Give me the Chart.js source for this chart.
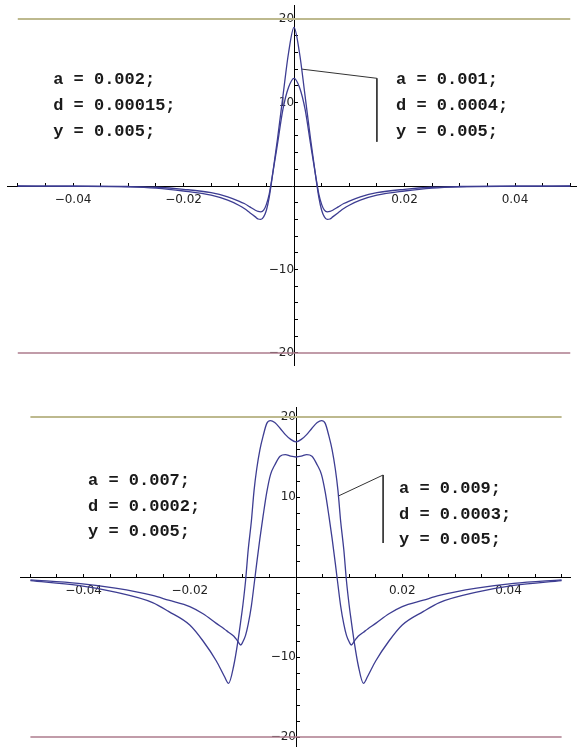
<!DOCTYPE html>
<html>
<head>
<meta charset="utf-8">
<script src="https://cdn.jsdelivr.net/npm/chart.js@4/dist/chart.umd.min.js"></script>
<style>
  html, body { margin: 0; padding: 0; background: #fff; }
  #wrap { position: relative; width: 577px; height: 747px; }
  #wrap canvas { position: absolute; left: 0; top: 0; }
</style>
</head>
<body>
<div id="wrap">
  <canvas id="topChart" width="577" height="747"></canvas>
  <canvas id="bottomChart" width="577" height="747"></canvas>
</div>
<script>
// ---- data ----
const xTicks = [-0.05, -0.045, -0.04, -0.035, -0.03, -0.025, -0.02, -0.015, -0.01, -0.005,
                0.005, 0.01, 0.015, 0.02, 0.025, 0.03, 0.035, 0.04, 0.045, 0.05];
const xLabelled = [-0.04, -0.02, 0.02, 0.04];
const yTicks = [-20, -18, -16, -14, -12, -10, -8, -6, -4, -2, 2, 4, 6, 8, 10, 12, 14, 16, 18, 20];
const yLabelled = [-20, -10, 10, 20];

const limitX = [-0.05, 0.05];
const upperLimit = [20, 20];
const lowerLimit = [-20, -20];

// top plot
const topX = [-0.05, -0.04, -0.03, -0.025, -0.02, -0.015, -0.012, -0.01, -0.009, -0.008, -0.007,
              -0.0065, -0.006, -0.0055, -0.005, -0.0045, -0.004, -0.003, -0.002, -0.001, 0,
              0.001, 0.002, 0.003, 0.004, 0.0045, 0.005, 0.0055, 0.006, 0.0065, 0.007,
              0.008, 0.009, 0.01, 0.012, 0.015, 0.02, 0.025, 0.03, 0.04, 0.05];
const topOuter = [-0.01, -0.03, -0.1, -0.25, -0.6, -1.1, -1.7, -2.3, -2.7, -3.2, -3.7,
                  -3.95, -4.0, -3.7, -2.9, -1.4, 0.8, 5.6, 10.8, 15.9, 19.0,
                  15.9, 10.8, 5.6, 0.8, -1.4, -2.9, -3.7, -4.0, -3.95, -3.7,
                  -3.2, -2.7, -2.3, -1.7, -1.1, -0.6, -0.25, -0.1, -0.03, -0.01];
const topInner = [0, -0.02, -0.06, -0.15, -0.4, -0.8, -1.3, -1.8, -2.1, -2.5, -2.9,
                  -3.05, -3.1, -2.9, -2.2, -1.0, 0.9, 5.0, 9.2, 11.8, 12.9,
                  11.8, 9.2, 5.0, 0.9, -1.0, -2.2, -2.9, -3.1, -3.05, -2.9,
                  -2.5, -2.1, -1.8, -1.3, -0.8, -0.4, -0.15, -0.06, -0.02, 0];
const topPointerX = [0.0014, 0.015, 0.015];
const topPointerY = [14.0, 12.9, 5.3];
const topLeftNote = ['a = 0.002;', 'd = 0.00015;', 'y = 0.005;'];
const topRightNote = ['a = 0.001;', 'd = 0.0004;', 'y = 0.005;'];

// bottom plot
const bottomX = [-0.05, -0.041, -0.034, -0.027, -0.024, -0.02, -0.0175, -0.015, -0.0135, -0.0127,
                 -0.0117, -0.011, -0.0104, -0.01, -0.0095, -0.009, -0.0084, -0.0079, -0.0074,
                 -0.0068, -0.0062, -0.0055, -0.0048, -0.004, -0.003, -0.002, -0.001, 0,
                 0.001, 0.002, 0.003, 0.004, 0.0048, 0.0055, 0.0062, 0.0068, 0.0074, 0.0079,
                 0.0084, 0.009, 0.0095, 0.01, 0.0104, 0.011, 0.0117, 0.0127, 0.0135, 0.015,
                 0.0175, 0.02, 0.024, 0.027, 0.034, 0.041, 0.05];
const bottomOuter = [-0.45, -1.05, -1.9, -3.2, -4.3, -6.0, -8.0, -10.5, -12.4, -13.3,
                     -11.0, -8.3, -5.5, -3.5, -0.5, 3.4, 7.0, 10.8, 13.5,
                     15.9, 17.6, 19.2, 19.55, 19.3, 18.6, 17.8, 17.2, 16.9,
                     17.2, 17.8, 18.6, 19.3, 19.55, 19.2, 17.6, 15.9, 13.5, 10.8,
                     7.0, 3.4, -0.5, -3.5, -5.5, -8.3, -11.0, -13.3, -12.4, -10.5,
                     -8.0, -6.0, -4.3, -3.2, -1.9, -1.05, -0.45];
const bottomInner = [-0.35, -0.8, -1.4, -2.3, -2.9, -3.7, -4.6, -5.8, -6.5, -6.9,
                     -7.4, -8.0, -8.5, -8.1, -7.3, -5.9, -3.6, -1.0, 1.7,
                     4.8, 7.6, 10.6, 12.8, 14.0, 15.1, 15.3, 15.1, 15.0,
                     15.1, 15.3, 15.1, 14.0, 12.8, 10.6, 7.6, 4.8, 1.7, -1.0,
                     -3.6, -5.9, -7.3, -8.1, -8.5, -8.0, -7.4, -6.9, -6.5, -5.8,
                     -4.6, -3.7, -2.9, -2.3, -1.4, -0.8, -0.35];
const bottomPointerX = [0.0079, 0.0164, 0.0164];
const bottomPointerY = [10.1, 12.75, 4.25];
const bottomLeftNote = ['a = 0.007;', 'd = 0.0002;', 'y = 0.005;'];
const bottomRightNote = ['a = 0.009;', 'd = 0.0003;', 'y = 0.005;'];

// ---- helpers ----
const pts = (xs, ys) => xs.map((x, i) => ({ x: x, y: ys[i] }));
const minus = v => (v < 0 ? '\u2212' : '') + Math.abs(v);
const noPad = s => { s.paddingTop = 0; s.paddingBottom = 0; s.paddingLeft = 0; s.paddingRight = 0; };
const tickFont = { family: '"DejaVu Sans", sans-serif', size: 12 };

const curveStyle = { borderColor: '#3d3d92', borderWidth: 1.3, pointRadius: 0, fill: false,
                     cubicInterpolationMode: 'monotone' };

// text blocks placed in data coordinates
function notesPlugin(blocks) {
  return {
    id: 'notes',
    afterDraw(chart) {
      const { ctx, scales } = chart;
      ctx.save();
      ctx.font = 'bold 17px "Liberation Mono", "Courier New", monospace';
      ctx.fillStyle = '#1a1a1a';
      ctx.textBaseline = 'alphabetic';
      blocks.forEach(b => {
        const px = scales.x.getPixelForValue(b.x);
        const py = scales.y.getPixelForValue(b.y);
        b.lines.forEach((t, i) => ctx.fillText(t, px, py + i * b.gap));
      });
      ctx.restore();
    }
  };
}

function makePlot(id, cfg) {
  return new Chart(document.getElementById(id), {
    type: 'line',
    data: {
      datasets: [
        { data: pts(limitX, upperLimit), borderColor: '#bdb98e', borderWidth: 2, pointRadius: 0 },
        { data: pts(limitX, lowerLimit), borderColor: '#ad7b8c', borderWidth: 1.5, pointRadius: 0 },
        Object.assign({ data: pts(cfg.xs, cfg.outer) }, curveStyle),
        Object.assign({ data: pts(cfg.xs, cfg.inner) }, curveStyle),
        { data: pts(cfg.pointerX, cfg.pointerY), borderColor: '#333', borderWidth: 1, pointRadius: 0, tension: 0 }
      ]
    },
    options: {
      responsive: false,
      animation: false,
      layout: { padding: cfg.padding },
      plugins: { legend: { display: false }, tooltip: { enabled: false } },
      scales: {
        x: {
          type: 'linear', position: { y: 0 }, min: cfg.xMin, max: cfg.xMax, bounds: 'data',
          afterBuildTicks: s => { s.ticks = xTicks.map(v => ({ value: v })); },
          afterFit: noPad,
          grid: { drawOnChartArea: false, tickLength: -4, tickColor: '#000', tickWidth: 1 },
          border: { display: true, color: '#000', width: 1 },
          ticks: { autoSkip: false, maxRotation: 0, padding: 11, color: '#222', font: tickFont,
                   callback: v => xLabelled.includes(v) ? minus(v) : '' }
        },
        y: {
          type: 'linear', position: { x: 0 }, min: cfg.yMin, max: cfg.yMax, bounds: 'data',
          afterBuildTicks: s => { s.ticks = yTicks.map(v => ({ value: v })); },
          afterFit: noPad,
          grid: { drawOnChartArea: false, tickLength: -4, tickColor: '#000', tickWidth: 1 },
          border: { display: true, color: '#000', width: 1 },
          ticks: { autoSkip: false, padding: 9, color: '#222', font: tickFont,
                   callback: v => yLabelled.includes(v) ? minus(v) : '' }
        }
      }
    },
    plugins: [notesPlugin(cfg.notes)]
  });
}

makePlot('topChart', {
  xs: topX, outer: topOuter, inner: topInner,
  pointerX: topPointerX, pointerY: topPointerY,
  xMin: -0.05195, xMax: 0.05122, yMin: -21.44, yMax: 21.68,
  padding: { left: 7, right: 0, top: 5, bottom: 382 },
  notes: [
    { x: -0.0436, y: 12.22, gap: 26, lines: topLeftNote },
    { x: 0.01846, y: 12.22, gap: 26, lines: topRightNote }
  ]
});

makePlot('bottomChart', {
  xs: bottomX, outer: bottomOuter, inner: bottomInner,
  pointerX: bottomPointerX, pointerY: bottomPointerY,
  xMin: -0.05196, xMax: 0.05158, yMin: -21.25, yMax: 21.25,
  padding: { left: 20, right: 7, top: 407, bottom: 0 },
  notes: [
    { x: -0.03916, y: 11.5, gap: 25.5, lines: bottomLeftNote },
    { x: 0.01939, y: 10.5, gap: 25.5, lines: bottomRightNote }
  ]
});
</script>
</body>
</html>
